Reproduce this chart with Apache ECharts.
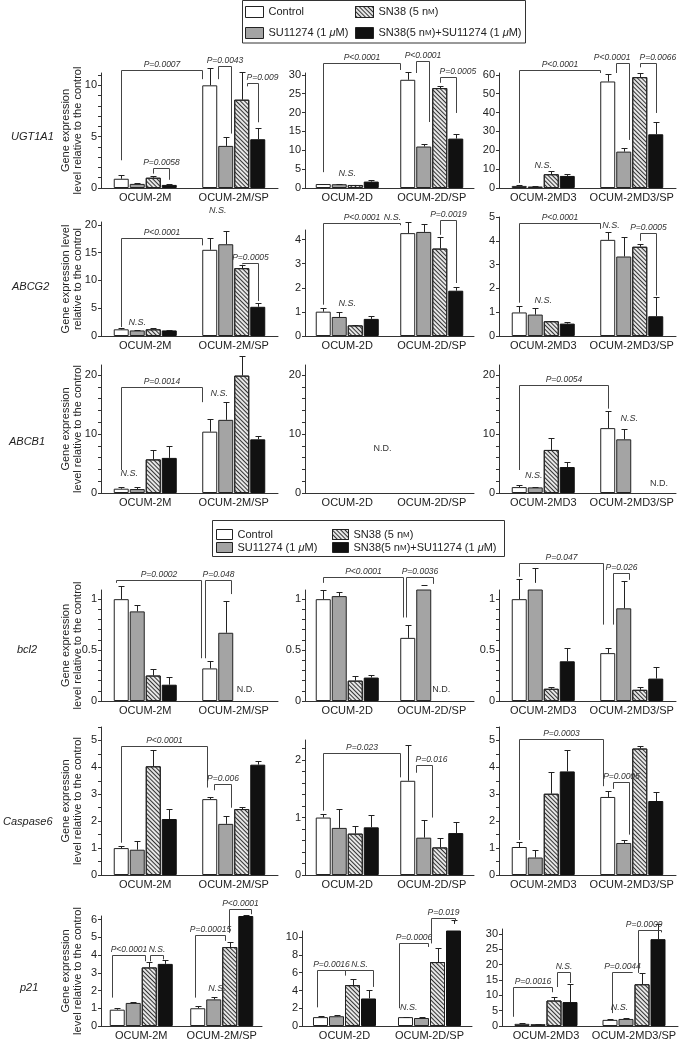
<!DOCTYPE html>
<html>
<head>
<meta charset="utf-8">
<script src="https://cdn.jsdelivr.net/npm/echarts@6/dist/echarts.min.js"></script>
<style>
  html, body { margin: 0; padding: 0; background: #fff; }
  #chart { width: 685px; height: 1043px; }
</style>
</head>
<body>
<div id="chart"></div>
<script>
// ---- data ----
const genes = ['UGT1A1', 'ABCG2', 'ABCB1', 'bcl2', 'Caspase6', 'p21'];
const cellLines = [['OCUM-2M', 'OCUM-2M/SP'], ['OCUM-2D', 'OCUM-2D/SP'], ['OCUM-2MD3', 'OCUM-2MD3/SP']];
const treatments = ['Control', 'SU11274 (1 μM)', 'SN38 (5 nM)', 'SN38(5 nM)+SU11274 (1 μM)'];

// mean[column][parent, SP][treatment]
const ugt1a1Mean = [
  [[0.9, 0.4, 1.0, 0.3], [10.0, 4.1, 8.6, 4.75]],
  [[1.05, 1.0, 0.8, 1.7], [28.7, 11.0, 26.5, 13.1]],
  [[1.1, 0.8, 7.3, 6.4], [56.5, 19.3, 58.8, 28.5]]
];
const ugt1a1Sd = [
  [[0.36, 0.1, 0.2, 0.05], [1.65, 0.85, 2.7, 1.05]],
  [[0.1, 0.1, 0.1, 0.3], [2.0, 0.7, 0.6, 1.15]],
  [[0.4, 0.2, 1.7, 0.9], [4.0, 2.1, 2.4, 6.7]]
];
const abcg2Mean = [
  [[1.2, 1.0, 1.2, 1.0], [15.5, 16.5, 12.2, 5.25]],
  [[1.01, 0.79, 0.44, 0.71], [4.27, 4.32, 3.63, 1.88]],
  [[0.99, 0.9, 0.62, 0.52], [4.04, 3.34, 3.75, 0.83]]
];
const abcg2Sd = [
  [[0.23, 0.13, 0.2, 0.1], [2.2, 2.3, 0.5, 0.6]],
  [[0.17, 0.2, 0.03, 0.14], [0.46, 0.34, 0.47, 0.15]],
  [[0.28, 0.27, 0.03, 0.08], [0.35, 0.8, 0.11, 0.8]]
];
const abcb1Mean = [
  [[0.73, 0.67, 5.7, 5.95], [10.4, 12.4, 19.9, 9.1]],
  [[null, null, null, null], [null, null, null, null]],
  [[1.0, 0.95, 7.3, 4.4], [11.0, 9.1, null, null]]
];
const abcb1Sd = [
  [[0.22, 0.33, 1.6, 2.05], [2.2, 3.0, 3.4, 0.56]],
  [[null, null, null, null], [null, null, null, null]],
  [[0.4, 0.15, 2.1, 0.9], [2.9, 1.7, null, null]]
];
const bcl2Mean = [
  [[1.0, 0.88, 0.25, 0.16], [0.32, 0.67, null, null]],
  [[1.0, 1.03, 0.2, 0.23], [0.62, 1.13, null, null]],
  [[1.0, 1.16, 0.12, 0.39], [0.47, 0.91, 0.11, 0.22]]
];
const bcl2Sd = [
  [[0.13, 0.06, 0.06, 0.08], [0.07, 0.31, null, null]],
  [[0.09, 0.04, 0.05, 0.03], [0.13, 0.01, null, null]],
  [[0.2, 0.15, 0.02, 0.13], [0.05, 0.27, 0.03, 0.11]]
];
const caspase6Mean = [
  [[1.0, 0.94, 4.04, 2.08], [2.82, 1.9, 2.45, 4.1]],
  [[1.0, 0.82, 0.72, 0.83], [1.64, 0.65, 0.48, 0.73]],
  [[1.04, 0.65, 3.02, 3.85], [2.9, 1.19, 4.7, 2.75]]
];
const caspase6Sd = [
  [[0.08, 0.33, 0.6, 0.37], [0.07, 0.3, 0.09, 0.12]],
  [[0.07, 0.33, 0.13, 0.22], [0.62, 0.31, 0.16, 0.2]],
  [[0.2, 0.29, 0.8, 0.78], [0.23, 0.12, 0.1, 0.32]]
];
const p21Mean = [
  [[0.92, 1.3, 3.3, 3.5], [1.0, 1.5, 4.45, 6.2]],
  [[1.0, 1.1, 4.6, 3.1], [1.0, 0.9, 7.2, 11.5]],
  [[0.7, 0.6, 8.3, 7.8], [2.0, 2.3, 13.6, 28.3]]
];
const p21Sd = [
  [[0.08, 0.04, 0.32, 0.2], [0.12, 0.12, 0.3, 0.06]],
  [[0.1, 0.1, 0.75, 0.9], [0.05, 0.15, 1.6, 0.4]],
  [[0.3, 0.2, 1.3, 6.0], [0.3, 0.2, 3.6, 5.0]]
];

// significance brackets: [cat1, bar1, cat2, bar2, top, leg1 end, leg2 end, text, text anchor]
const ugt1a1Marks = [
  [[0, 0, 1, -0.5, 11.45, 2.7, 10.6, 'P=0.0007', 'c'],
   [1, 0.5, 1, 1.3, 11.9, 10.6, 5.3, 'P=0.0043', 'c'],
   [1, 2.3, 1, 3, 10.2, 9.9, 6.4, 'P=0.009', 'l'],
   [0, 2, 0, 3, 1.95, 1.4, 0.8, 'P=0.0058', 'c']],
  [[0, 0, 1, -0.5, 33.2, 4.2, 31.3, 'P<0.0001', 'c'],
   [1, 0.5, 1, 1.3, 33.7, 30.5, 17.5, 'P<0.0001', 'c'],
   [1, 2, 1, 3, 29.5, 27.9, 19.9, 'P=0.0005', 'l']],
  [[0, 0, 1, -0.5, 62.7, 2.7, 61, 'P<0.0001', 'c'],
   [1, 0.5, 1, 1.3, 66.4, 61, 25.5, 'P<0.0001', 'r'],
   [1, 2, 1, 3, 66.4, 64, 39.8, 'P=0.0066', 'l']]
];
const abcg2Marks = [
  [[0, 0, 1, -0.5, 17.7, 1.6, 16.3, 'P<0.0001', 'c'],
   [1, 2, 1, 3, 13.1, 12.9, 6.3, 'P=0.0005', 'c']],
  [[0, 0, 1, -0.5, 4.7, 1.3, 4.6, 'P<0.0001', 'c'],
   [1, 2, 1, 3, 4.8, 4.2, 2.2, 'P=0.0019', 'c']],
  [[0, 0, 1, -0.5, 4.75, 1.4, 4.5, 'P<0.0001', 'c'],
   [1, 2, 1, 3, 4.33, 4.0, 1.7, 'P=0.0005', 'c']]
];
const abcb1Marks = [
  [[0, 0, 1, -0.5, 18.0, 3.9, 15.4, 'P=0.0014', 'c']],
  [],
  [[0, 0, 1, 0, 18.3, 3.9, 14.3, 'P=0.0054', 'c']]
];
const bcl2Marks = [
  [[0, -0.3, 1, -0.55, 1.19, 1.16, 0.42, 'P=0.0002', 'c'],
   [1, -0.3, 1, 1.3, 1.19, 0.42, 1.05, 'P=0.048', 'c']],
  [[0, 0, 1, -0.3, 1.22, 1.16, 0.82, 'P<0.0001', 'c'],
   [1, -0.1, 1, 1.6, 1.22, 0.82, 1.15, 'P=0.0036', 'c']],
  [[0, 0, 1, -0.3, 1.36, 1.22, 0.75, 'P=0.047', 'c'],
   [1, 0.3, 1, 1.3, 1.26, 0.75, 1.19, 'P=0.026', 'c']]
];
const caspase6Marks = [
  [[0, 0, 1, -0.15, 4.8, 1.2, 3.25, 'P<0.0001', 'c'],
   [1, 0.25, 1, 1.3, 3.4, 3.15, 2.5, 'P=0.006', 'c']],
  [[0, 0, 1, -0.5, 2.12, 1.12, 1.7, 'P=0.023', 'c'],
   [1, 0.5, 1, 1.5, 1.91, 1.78, 1.0, 'P=0.016', 'l']],
  [[0, 0, 1, -0.3, 5.07, 1.3, 3.3, 'P=0.0003', 'c'],
   [1, 0.3, 1, 1.3, 3.45, 3.2, 1.5, 'P=0.0005', 'c']]
];
const p21Marks = [
  [[0, -0.3, 0, 1.75, 4.0, 1.6, 3.65, 'P<0.0001', 'c'],
   [0, 2.05, 0, 2.85, 4.0, 3.65, 3.75, 'N.S.', 'c'],
   [1, -0.15, 1, 1.7, 5.15, 1.6, 4.8, 'P=0.00015', 'c'],
   [1, 1.95, 1, 3.3, 6.6, 5.25, 6.3, 'P<0.0001', 'c']],
  [[0, -0.2, 0, 1.5, 6.3, 2.1, 5.7, 'P=0.0016', 'c'],
   [0, 1.5, 0, 3.3, 6.3, 5.7, 4.4, 'N.S.', 'c'],
   [1, -0.4, 1, 1.4, 9.3, 2.0, 8.9, 'P=0.0006', 'c'],
   [1, 1.6, 1, 3.1, 12.2, 9.3, 11.8, 'P=0.019', 'c']],
  [[0, -0.55, 0, 1.9, 12.7, 3.0, 11, 'P=0.0016', 'c'],
   [0, 2.2, 0, 3.0, 17.6, 12.7, 14, 'N.S.', 'c'],
   [1, 0.15, 1, 1.4, 17.6, 4.2, 17.3, 'P=0.0044', 'c'],
   [1, 1.75, 1, 3.2, 31.3, 17.3, 30.5, 'P=0.0009', 'r']]
];

// free notes: [cat, bar position, value at text bottom, text]
const ugt1a1Notes = [[], [[0, 1.5, 2.7, 'N.S.']], [[0, 1.5, 9.6, 'N.S.']]];
const abcg2Notes = [
  [[0, 1.0, 1.6, 'N.S.'], [1, 0.5, 21.8, 'N.S.']],
  [[0, 1.5, 1.16, 'N.S.'], [1, -0.95, 4.75, 'N.S.']],
  [[0, 1.5, 1.3, 'N.S.'], [1, 0.2, 4.45, 'N.S.']]
];
const abcb1Notes = [
  [[0, 0.5, 2.5, 'N.S.'], [1, 0.6, 16.1, 'N.S.']],
  [[0, 3.7, 6.8, 'N.D.']],
  [[0, 0.9, 2.2, 'N.S.'], [1, 1.35, 11.9, 'N.S.'], [1, 3.2, 0.85, 'N.D.']]
];
const bcl2Notes = [[[1, 2.25, 0.07, 'N.D.']], [[1, 2.1, 0.07, 'N.D.']], []];
const caspase6Notes = [[], [], []];
const p21Notes = [[[1, 1.2, 1.85, 'N.S.']], [[1, 0.2, 1.6, 'N.S.']], [[1, 0.6, 4.6, 'N.S.']]];

// y axes: range and tick labels
const yMax = [[11.2, 30.5, 61], [20.5, 4.4, 5], [21.7, 21.7, 21.7], [1.09, 1.09, 1.09], [5.5, 2.35, 5.5], [6.2, 10.7, 31.6]];
const yTicks = [
  [[0, 5, 10], [0, 5, 10, 15, 20, 25, 30], [0, 10, 20, 30, 40, 50, 60]],
  [[0, 5, 10, 15, 20], [0, 1, 2, 3, 4], [0, 1, 2, 3, 4, 5]],
  [[0, 10, 20], [0, 10, 20], [0, 10, 20]],
  [[0, 0.5, 1], [0, 0.5, 1], [0, 0.5, 1]],
  [[0, 1, 2, 3, 4, 5], [0, 1, 2], [0, 1, 2, 3, 4, 5]],
  [[0, 1, 2, 3, 4, 5, 6], [0, 2, 4, 6, 8, 10], [0, 5, 10, 15, 20, 25, 30]]
];
const minorStep = [[1, 0, 0], [0, 0, 0], [2, 2, 2], [0.1, 0.1, 0.1], [0.5, 0.2, 0.5], [0, 0, 0]];
const yTitles = [
  'Gene expression\nlevel relative to the control',
  'Gene expression level\nrelative to the control',
  'Gene expression\nlevel relative to the control',
  'Gene expression\nlevel relative to the control',
  'Gene expression\nlevel relative to the control',
  'Gene expression\nlevel relative to the control'
];

const MEANS = [ugt1a1Mean, abcg2Mean, abcb1Mean, bcl2Mean, caspase6Mean, p21Mean];
const SDS = [ugt1a1Sd, abcg2Sd, abcb1Sd, bcl2Sd, caspase6Sd, p21Sd];
const MARKS = [ugt1a1Marks, abcg2Marks, abcb1Marks, bcl2Marks, caspase6Marks, p21Marks];
const NOTES = [ugt1a1Notes, abcg2Notes, abcb1Notes, bcl2Notes, caspase6Notes, p21Notes];

// ---- layout (pixels) ----
const FONT = '"Liberation Sans", Arial, Helvetica, sans-serif';
const BAR_W = 15;
const PITCH = 16;   // bar width + 1px gap
const rowZero = [188, 336, 493, 701, 875, 1026];
const panelTop = [[73, 73, 73], [222, 230, 217], [365, 365, 365], [590, 590, 590], [727, 740, 727], [916, 931, 929]];
const colX = [[101, 278], [305, 474], [499, 676]];
const colXLast = [[101, 262], [302, 472], [502, 678]];
const geneLabelPos = [[11, 137], [12, 287], [9, 442], [17, 650], [3, 822], [20, 988]];

const barStyles = [
  { color: '#ffffff', borderColor: '#222', borderWidth: 1 },
  { color: '#a4a4a4', borderColor: '#222', borderWidth: 1 },
  { color: '#e6e6e6', borderColor: '#222', borderWidth: 1,
    decal: { symbol: 'rect', symbolSize: 1, dashArrayX: [1, 0], dashArrayY: [1, 2], rotation: Math.PI / 4, color: '#333' } },
  { color: '#111111', borderColor: '#111', borderWidth: 1 }
];

function snap(v) { return Math.round(v) + 0.5; }

function errRender(params, api) {
  const cat = api.value(0), bar = api.value(1), m = api.value(2), e = api.value(3);
  const top = api.coord([cat, m + e]);
  const base = api.coord([cat, m]);
  const x = snap(top[0] + (bar - 1.5) * PITCH);
  const yt = snap(top[1]);
  return {
    type: 'group',
    children: [
      { type: 'line', shape: { x1: x, y1: base[1], x2: x, y2: yt }, style: { stroke: '#222', lineWidth: 1 } },
      { type: 'line', shape: { x1: x - 3, y1: yt, x2: x + 3, y2: yt }, style: { stroke: '#222', lineWidth: 1 } }
    ]
  };
}

function markRender(marks) {
  return function (params, api) {
    const m = marks[params.dataIndex];
    const xa = snap(api.coord([m[0], 0])[0] + (m[1] - 1.5) * PITCH);
    const xb = snap(api.coord([m[2], 0])[0] + (m[3] - 1.5) * PITCH);
    const yt = snap(api.coord([0, m[4]])[1]);
    const ya = api.coord([0, m[5]])[1];
    const yb = api.coord([0, m[6]])[1];
    let tx = (xa + xb) / 2, align = 'center';
    if (m[8] === 'l') { tx = xa - 1; align = 'left'; }
    if (m[8] === 'r') { tx = xb + 1; align = 'right'; }
    return {
      type: 'group',
      children: [
        { type: 'polyline', shape: { points: [[xa, ya], [xa, yt], [xb, yt], [xb, yb]] },
          style: { stroke: '#444', lineWidth: 1, fill: null } },
        { type: 'text', x: tx, y: yt - 1.5,
          style: { text: m[7], fill: '#333', fontSize: 8.5, fontStyle: 'italic', fontFamily: FONT, align: align, verticalAlign: 'bottom' } }
      ]
    };
  };
}

function noteRender(notes) {
  return function (params, api) {
    const n = notes[params.dataIndex];
    const p = api.coord([n[0], n[2]]);
    const nd = n[3] === 'N.D.';
    return {
      type: 'text', x: p[0] + (n[1] - 1.5) * PITCH, y: p[1],
      style: { text: n[3], fill: '#333', fontSize: 9, fontStyle: nd ? 'normal' : 'italic',
        fontFamily: FONT, align: 'center', verticalAlign: 'bottom' }
    };
  };
}

function tickValues(ticks, step, max) {
  const vals = ticks.slice();
  if (step > 0) {
    for (let v = step; v <= max + 1e-9; v += step) vals.push(Math.round(v * 1000) / 1000);
  }
  return vals;
}

const grid = [], xAxis = [], yAxis = [], series = [];

genes.forEach((gene, g) => {
  for (let c = 0; c < 3; c++) {
    const p = g * 3 + c;
    const xr = (g === 5 ? colXLast : colX)[c];
    grid.push({ left: xr[0], top: panelTop[g][c], width: xr[1] - xr[0], height: rowZero[g] - panelTop[g][c] });
    xAxis.push({
      type: 'category', gridIndex: p, data: cellLines[c],
      axisTick: { show: false },
      axisLine: { lineStyle: { color: '#333', width: 1 } },
      axisLabel: { interval: 0, fontSize: 11, color: '#222', margin: 4, fontFamily: FONT }
    });
    yAxis.push({
      type: 'value', gridIndex: p, min: 0, max: yMax[g][c],
      name: c === 0 ? yTitles[g] : '',
      nameLocation: 'middle', nameGap: 17, nameRotate: 90, nameMoveOverlap: false,
      nameTextStyle: { fontSize: 11, lineHeight: 12, color: '#222', fontFamily: FONT },
      axisLine: { show: true, lineStyle: { color: '#333', width: 1 } },
      axisTick: { show: true, length: 3, customValues: tickValues(yTicks[g][c], minorStep[g][c], yMax[g][c]), lineStyle: { color: '#333' } },
      axisLabel: { customValues: yTicks[g][c], fontSize: 11, color: '#222', margin: 4, fontFamily: FONT },
      splitLine: { show: false }
    });

    const mean = MEANS[g][c], sd = SDS[g][c];
    treatments.forEach((t, i) => {
      series.push({
        type: 'bar', name: t, xAxisIndex: p, yAxisIndex: p,
        data: [mean[0][i], mean[1][i]],
        barWidth: BAR_W, barGap: '6.7%',
        itemStyle: barStyles[i], silent: true
      });
    });

    const errData = [];
    for (let k = 0; k < 2; k++) {
      for (let i = 0; i < 4; i++) {
        if (mean[k][i] !== null) errData.push([k, i, mean[k][i], sd[k][i]]);
      }
    }
    series.push({ type: 'custom', xAxisIndex: p, yAxisIndex: p, data: errData, renderItem: errRender, z: 3, silent: true, clip: false });

    const marks = MARKS[g][c];
    if (marks.length) {
      series.push({ type: 'custom', xAxisIndex: p, yAxisIndex: p, data: marks.map(m => [m[0], m[4]]),
        renderItem: markRender(marks), z: 4, silent: true, clip: false });
    }
    const notes = NOTES[g][c];
    if (notes.length) {
      series.push({ type: 'custom', xAxisIndex: p, yAxisIndex: p, data: notes.map(n => [n[0], n[2]]),
        renderItem: noteRender(notes), z: 4, silent: true, clip: false });
    }
  }
});

// legends: one component per item so the 2x2 layout matches
function richName(name) {
  return name.replace(/μ/g, '{mu|μ}').replace(/nM/g, 'n{sc|M}');
}
function legendItem(name, left, top, w, h) {
  return {
    data: [name], left: left, top: top, padding: 0, itemWidth: w, itemHeight: h,
    icon: 'rect', selectedMode: false,
    itemStyle: { borderColor: '#222', borderWidth: 1 },
    formatter: richName,
    textStyle: {
      fontSize: 11, color: '#222', fontFamily: FONT,
      rich: {
        mu: { fontSize: 11, fontStyle: 'italic', color: '#222', fontFamily: FONT },
        sc: { fontSize: 8, color: '#222', fontFamily: FONT }
      }
    }
  };
}
const legend = [
  legendItem(treatments[0], 245, 6, 18, 11),
  legendItem(treatments[2], 355, 6, 18, 11),
  legendItem(treatments[1], 245, 27, 18, 11),
  legendItem(treatments[3], 355, 27, 18, 11),
  legendItem(treatments[0], 216, 529, 16, 10),
  legendItem(treatments[2], 332, 529, 16, 10),
  legendItem(treatments[1], 216, 542, 16, 10),
  legendItem(treatments[3], 332, 542, 16, 10)
];

const graphic = [
  { type: 'rect', shape: { x: 242.5, y: 0.5, width: 283, height: 42.5 }, style: { fill: null, stroke: '#333', lineWidth: 1 } },
  { type: 'rect', shape: { x: 212.5, y: 520.5, width: 292, height: 36 }, style: { fill: null, stroke: '#333', lineWidth: 1 } }
];
genes.forEach((gene, g) => {
  graphic.push({
    type: 'text', x: geneLabelPos[g][0], y: geneLabelPos[g][1],
    style: { text: gene, fontSize: 11, fontStyle: 'italic', fontFamily: FONT, fill: '#222', verticalAlign: 'middle' }
  });
});

const chart = echarts.init(document.getElementById('chart'));
chart.setOption({
  animation: false,
  backgroundColor: '#ffffff',
  textStyle: { fontFamily: FONT },
  grid: grid,
  xAxis: xAxis,
  yAxis: yAxis,
  legend: legend,
  graphic: graphic,
  series: series
});
</script>
</body>
</html>
